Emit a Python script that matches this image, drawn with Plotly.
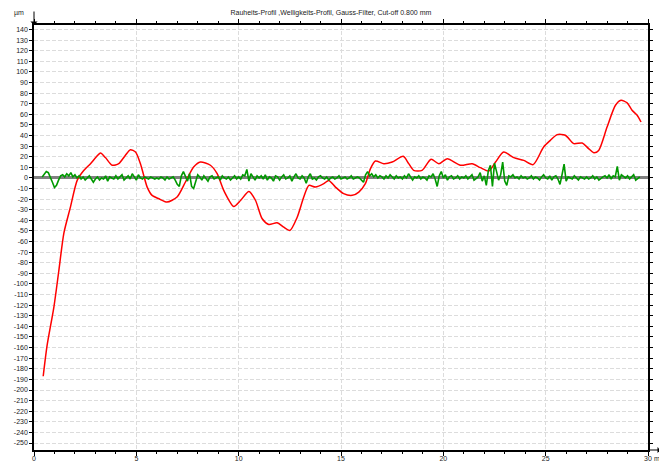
import plotly.graph_objects as go

# Waviness profile (red)
wav_x = [0.45, 0.64, 0.97, 1.21, 1.46, 1.78, 2.11, 2.43, 2.76, 3.05, 3.25, 3.5, 3.82, 4.14, 4.45, 4.71, 4.96,
         5.2, 5.53, 5.77, 6.1, 6.5, 6.99, 7.4, 7.8, 8.13, 8.62, 8.95, 9.27, 9.76, 10.1, 10.5, 10.82, 11.15,
         11.47, 11.88, 12.2, 12.5, 12.86, 13.18, 13.43, 13.75, 14.16, 14.4, 14.73, 15.13, 15.55, 15.87,
         16.19, 16.44, 16.68, 17.09, 17.5, 18.04, 18.31, 18.55, 18.96, 19.4, 19.78, 20.19, 20.84, 21.41,
         21.81, 22.22, 22.55, 22.95, 23.44, 23.93, 24.39, 24.9, 25.23, 25.56, 25.96, 26.37, 26.78, 27.1,
         27.35, 27.59, 28.0, 28.41, 28.68, 28.98, 29.22, 29.47, 29.66]
wav_y = [-187, -158, -122, -88, -52, -27.5, -2.3, 7, 13.5, 20, 23.5, 19, 12, 13.5, 21, 26.7, 24.5,
         13.5, -8.6, -16.4, -19.6, -22.7, -18, -3.8, 10.3, 15, 12, 4, -11.7, -26.8, -21, -12.7, -21, -38.5,
         -43.8, -42.3, -46.4, -49.5, -37, -18, -7, -8.6, -5.4, -2.3, -8.6, -14.8, -16.4, -13.3,
         -5.4, 8.8, 16, 13.5, 15, 20.4, 13.5, 7.2, 7.2, 17.6, 13.5, 18.2, 12, 13.5,
         9.7, 6.5, 15, 24.5, 19.2, 16.6, 12.6, 29.2, 35.5, 40.9, 40.3, 32.4, 33, 27.7,
         23.9, 26, 48, 68.6, 73.3, 70.8, 63.9, 59.2, 52.8]

# Roughness profile (green), one value per 0.1 mm from 0.4 mm
rough_start = 0.4
rough_step = 0.1
rough_y = [1, 4, 6, 5, 1, -4,
           -9, -7, -2, 2, 3, 1, 4, 2, 5, 1,
           3, 0, 2, -1, 1, -2, 0, 2, -1, -4,
           -1, 1, -2, 0, -1, 2, -3, 1, 0, -1,
           2, -1, 1, 3, -2, 0, 2, -1, 4, 1,
           -2, 3, 0, -1, 1, 0, -1, 1, 0, -1,
           0, -1, 1, 0, -2, 1, -1, 0, 1, -2,
           -6, -8, 2, 6, 1, -3, 4, -8, -10, -2,
           3, 1, -2, 2, 0, -3, 1, 2, -1, 0,
           1, -2, 2, 0, -1, 1, -2, 0, 2, -1,
           1, -1, 3, 2, 8, -3, 4, 1, -2, 2,
           0, 2, -1, 3, -2, 1, 0, -3, 2, 1,
           -2, 1, 3, -1, 0, 2, -3, 1, 4, 0,
           -1, 2, 0, -5, 1, 4, -1, 0, -2, 1,
           2, 0, -1, 1, -2, 0, 1, -1, 0, 2,
           -1, 0, 1, -1, 0, 2, -1, 0, 1, 0,
           -2, -4, 3, 6, 2, 4, 1, 3, 0, 2,
           1, -1, 2, 0, 3, 1, -1, 2, 0, 1,
           -1, 2, 0, 4, 1, -2, 1, 0, 2, -1,
           1, 0, -2, 2, 1, 4, -1, -8, 2, 6,
           0, 3, -2, 1, 2, -1, 0, 2, -1, 1,
           0, 2, -1, 1, 3, -2, 0, 1, 5, -3,
           2, -7, 7, 12, -8, 14, 6, -2, 3, 15,
           -3, -7, 2, 1, 3, 0, 1, -1, 2, 0,
           1, -1, 0, 2, -1, 1, 0, -2, 1, 3,
           0, -1, 2, -2, 1, 2, -1, -6, 3, 13,
           -3, 1, 0, -1, 2, 0, -2, 1, 0, -1,
           1, -1, 0, 2, -1, 1, -2, 0, 1, 2,
           0, 3, -1, 2, 1, 11, -2, 3, 1, 0,
           2, -1, 1, 3, -2, 0, 1]
rough_x = [round(rough_start + i * rough_step, 2) for i in range(len(rough_y))]

title_text = "Rauheits-Profil ,Welligkeits-Profil, Gauss-Filter, Cut-off 0.800 mm"
x_ticks = [0, 5, 10, 15, 20, 25, 30]
x_labels = ["0", "5", "10", "15", "20", "25", "30"]
y_ticks = list(range(140, -260, -10))
y_labels = [str(v) if v >= 0 else "-" + str(-v) for v in y_ticks]

fig = go.Figure()
fig.add_trace(go.Scatter(x=wav_x, y=wav_y, mode="lines",
                         line=dict(color="#ff0000", width=1.5, shape="spline", smoothing=0.7),
                         showlegend=False, hoverinfo="skip"))
fig.add_trace(go.Scatter(x=rough_x, y=rough_y, mode="lines",
                         line=dict(color="#009900", width=1.6),
                         showlegend=False, hoverinfo="skip"))

fnt = dict(family="Liberation Sans, Arial, sans-serif", size=7, color="#222222")

# the page body adds an 8px offset, so the figure is 8px smaller on each side
fig.update_layout(
    width=659, height=456,
    margin=dict(l=26, r=19, t=17, b=14, autoexpand=False),
    paper_bgcolor="white", plot_bgcolor="white",
    font=fnt,
    title=dict(text=title_text, x=0.490, xanchor="center", y=0.99, yanchor="middle",
               font=dict(family="Liberation Sans, Arial, sans-serif", size=7, color="#222222")),
    xaxis=dict(range=[0, 30], tickvals=x_ticks, ticktext=x_labels,
               showgrid=True, gridcolor="#dcdcdc", griddash="4px,2px", gridwidth=1,
               zeroline=False, showline=True, linecolor="#000000", linewidth=1.5,
               mirror="allticks", ticks="outside", ticklen=4, tickcolor="#000000", tickwidth=1,
               minor=dict(dtick=1, ticks="outside", ticklen=2, tickcolor="#000000", showgrid=False),
               tickfont=fnt, automargin=False, ticklabelstandoff=-3),
    yaxis=dict(range=[-256.6, 144.3], tickvals=y_ticks, ticktext=y_labels,
               showgrid=True, gridcolor="#dcdcdc", griddash="4px,2px", gridwidth=1,
               zeroline=True, zerolinecolor="#808080", zerolinewidth=2.5,
               showline=True, linecolor="#000000", linewidth=1.5,
               mirror="allticks", ticks="outside", ticklen=3, tickcolor="#000000", tickwidth=1,
               tickfont=fnt, automargin=False),
    annotations=[
        dict(text="µm", xref="paper", yref="paper", x=-0.0244, y=1.028, xanchor="center", yanchor="middle",
             showarrow=False, font=fnt),
        dict(text="mm", xref="paper", yref="paper", x=1.006, y=-0.019, xanchor="left", yanchor="middle",
             showarrow=False, font=fnt),
        dict(x=0, y=1.0, xref="paper", yref="paper", ax=0, ay=-15, axref="pixel", ayref="pixel",
             text="", showarrow=True, arrowhead=1, arrowsize=1.2, arrowwidth=1, arrowcolor="#000000",
             startstandoff=0),
        dict(x=1.0, y=0, xref="paper", yref="paper", ax=14, ay=0, axref="pixel", ayref="pixel",
             text="", showarrow=True, arrowhead=1, arrowsize=1.2, arrowwidth=1, arrowcolor="#000000",
             arrowside="start"),
    ],
)

fig.write_html("out.html")
